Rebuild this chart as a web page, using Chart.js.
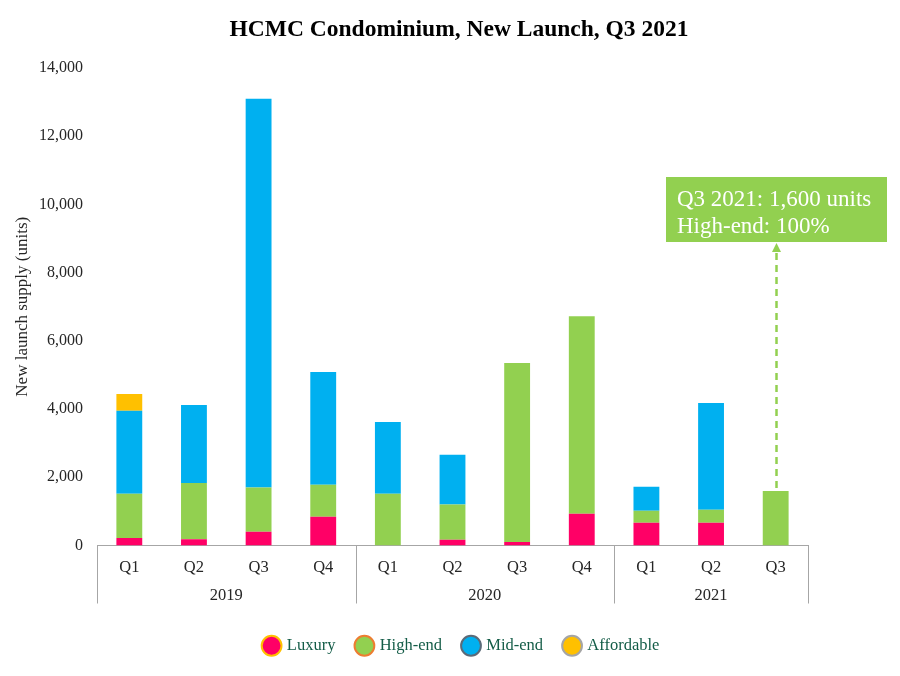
<!DOCTYPE html>
<html>
<head>
<meta charset="utf-8">
<script src="https://cdn.jsdelivr.net/npm/chart.js@4.4.1/dist/chart.umd.min.js"></script>
<style>
  html, body { margin: 0; padding: 0; background: #ffffff; }
  #wrap { width: 900px; height: 676px; position: relative; }
</style>
</head>
<body>
<div id="wrap"><canvas id="c" width="900" height="676"></canvas></div>
<script>
// ---- Data ----
const chartTitle = 'HCMC Condominium, New Launch, Q3 2021';
const yTitle = 'New launch supply (units)';
const quarters = ['Q1','Q2','Q3','Q4','Q1','Q2','Q3','Q4','Q1','Q2','Q3'];
const years = ['2019','2020','2021'];
const yearSpans = [4, 4, 3];
const luxury     = [220, 180, 400, 840, 0, 170, 100, 930, 670, 670, 0];
const highEnd    = [1300, 1650, 1300, 940, 1520, 1030, 5250, 5790, 350, 380, 1600];
const midEnd     = [2430, 2290, 11400, 3310, 2100, 1460, 0, 0, 700, 3130, 0];
const affordable = [490, 0, 0, 0, 0, 0, 0, 0, 0, 0, 0];
const yTicks = [0, 2000, 4000, 6000, 8000, 10000, 12000, 14000];
const calloutLines = ['Q3 2021: 1,600 units', 'High-end: 100%'];
const calloutIndex = 10;

const SERIF = '"Liberation Serif", "Times New Roman", serif';
const GREY = '#A6A6A6';
const TXT = '#262626';
const C_LUX = '#FF0066', C_HIGH = '#92D050', C_MID = '#00B0F0', C_AFF = '#FFC000';
const legendBorders = ['#FFC000', '#ED7D31', '#5B6B79', '#A5A5A5'];

const titlePlugin = {
  id: 'titlePlugin',
  afterDraw(chart) {
    const ctx = chart.ctx, area = chart.chartArea;
    ctx.save();
    ctx.fillStyle = '#000'; ctx.font = 'bold 23.5px ' + SERIF;
    ctx.textAlign = 'center'; ctx.textBaseline = 'middle';
    ctx.fillText(chartTitle, 459, 30);
    ctx.translate(23, (area.top + area.bottom) / 2);
    ctx.rotate(-Math.PI / 2);
    ctx.fillStyle = TXT; ctx.font = '17px ' + SERIF;
    ctx.fillText(yTitle, 0, 0);
    ctx.restore();
  }
};

const groupAxis = {
  id: 'groupAxis',
  afterDraw(chart) {
    const ctx = chart.ctx, xs = chart.scales.x, area = chart.chartArea;
    const half = (xs.getPixelForValue(1) - xs.getPixelForValue(0)) / 2;
    ctx.save();
    ctx.strokeStyle = GREY; ctx.lineWidth = 1;
    let idx = 0;
    const bounds = [xs.getPixelForValue(0) - half];
    yearSpans.forEach(s => { idx += s; bounds.push(xs.getPixelForValue(idx - 1) + half); });
    bounds.forEach(b => {
      const x = Math.round(b) + 0.5;
      ctx.beginPath(); ctx.moveTo(x, area.bottom); ctx.lineTo(x, area.bottom + 58); ctx.stroke();
    });
    ctx.fillStyle = TXT; ctx.font = '16.5px ' + SERIF;
    ctx.textAlign = 'center'; ctx.textBaseline = 'middle';
    years.forEach((y, i) => ctx.fillText(y, (bounds[i] + bounds[i+1]) / 2, area.bottom + 50));
    ctx.restore();
  }
};

const callout = {
  id: 'callout',
  afterDraw(chart) {
    const ctx = chart.ctx, xs = chart.scales.x, ys = chart.scales.y;
    const total = luxury[calloutIndex] + highEnd[calloutIndex] + midEnd[calloutIndex] + affordable[calloutIndex];
    const x = Math.round(xs.getPixelForValue(calloutIndex)) + 0.5;
    const yBottom = ys.getPixelForValue(total) - 3;
    const boxW = 221, boxH = 65;
    const boxTop = Math.round(ys.getPixelForValue(10790));
    const boxBottom = boxTop + boxH;
    const arrowTop = boxBottom + 1;
    ctx.save();
    ctx.strokeStyle = C_HIGH; ctx.lineWidth = 2.5; ctx.setLineDash([7, 5]);
    ctx.beginPath(); ctx.moveTo(x, yBottom); ctx.lineTo(x, arrowTop + 8); ctx.stroke();
    ctx.setLineDash([]);
    ctx.fillStyle = C_HIGH;
    ctx.beginPath(); ctx.moveTo(x, arrowTop); ctx.lineTo(x - 4.5, arrowTop + 9); ctx.lineTo(x + 4.5, arrowTop + 9); ctx.closePath(); ctx.fill();
    ctx.fillRect(x - boxW / 2, boxTop, boxW, boxH);
    ctx.fillStyle = '#ffffff'; ctx.font = '23px ' + SERIF;
    ctx.textAlign = 'left'; ctx.textBaseline = 'alphabetic';
    ctx.fillText(calloutLines[0], x - boxW / 2 + 11, boxTop + 29);
    ctx.fillText(calloutLines[1], x - boxW / 2 + 11, boxTop + 56);
    ctx.restore();
  }
};

const mk = (label, data, color) => ({ label, data, backgroundColor: color, borderWidth: 0, barPercentage: 0.4, categoryPercentage: 1.0 });

new Chart(document.getElementById('c'), {
  type: 'bar',
  data: {
    labels: quarters,
    datasets: [
      mk('Luxury', luxury, C_LUX),
      mk('High-end', highEnd, C_HIGH),
      mk('Mid-end', midEnd, C_MID),
      mk('Affordable', affordable, C_AFF)
    ]
  },
  options: {
    responsive: false,
    animation: false,
    devicePixelRatio: 1,
    layout: { padding: { top: 68, right: 0, bottom: 12, left: 24 } },
    plugins: {
      title: { display: false },
      legend: {
        position: 'bottom',
        labels: {
          usePointStyle: true, pointStyle: 'circle', boxWidth: 14, boxHeight: 14,
          padding: 22, color: '#135C47', font: { family: SERIF, size: 16.5 },
          generateLabels(chart) {
            return chart.data.datasets.map((d, i) => ({
              text: d.label, fillStyle: d.backgroundColor, strokeStyle: legendBorders[i],
              lineWidth: 2, pointStyle: 'circle', datasetIndex: i, fontColor: '#135C47'
            }));
          }
        }
      },
      tooltip: { enabled: false }
    },
    scales: {
      x: {
        stacked: true,
        grid: { display: false },
        border: { display: true, color: GREY, width: 1 },
        ticks: { color: TXT, font: { family: SERIF, size: 16.5 }, padding: 4, maxRotation: 0 },
        afterFit(s) { s.height = 70; }
      },
      y: {
        stacked: true,
        min: 0, max: 14000,
        afterBuildTicks(s) { s.ticks = yTicks.map(v => ({ value: v })); },
        grid: { display: false, drawTicks: false },
        border: { display: false },
        ticks: {
          color: TXT, font: { family: SERIF, size: 16 }, padding: 14,
          callback: v => v.toLocaleString('en-US')
        },
        afterFit(s) { s.width = 73; }
      },
      yRight: {
        position: 'right',
        display: true,
        grid: { display: false, drawTicks: false },
        border: { display: false },
        ticks: { display: false },
        afterFit(s) { s.width = 92; }
      }
    }
  },
  plugins: [titlePlugin, groupAxis, callout]
});
</script>
</body>
</html>
